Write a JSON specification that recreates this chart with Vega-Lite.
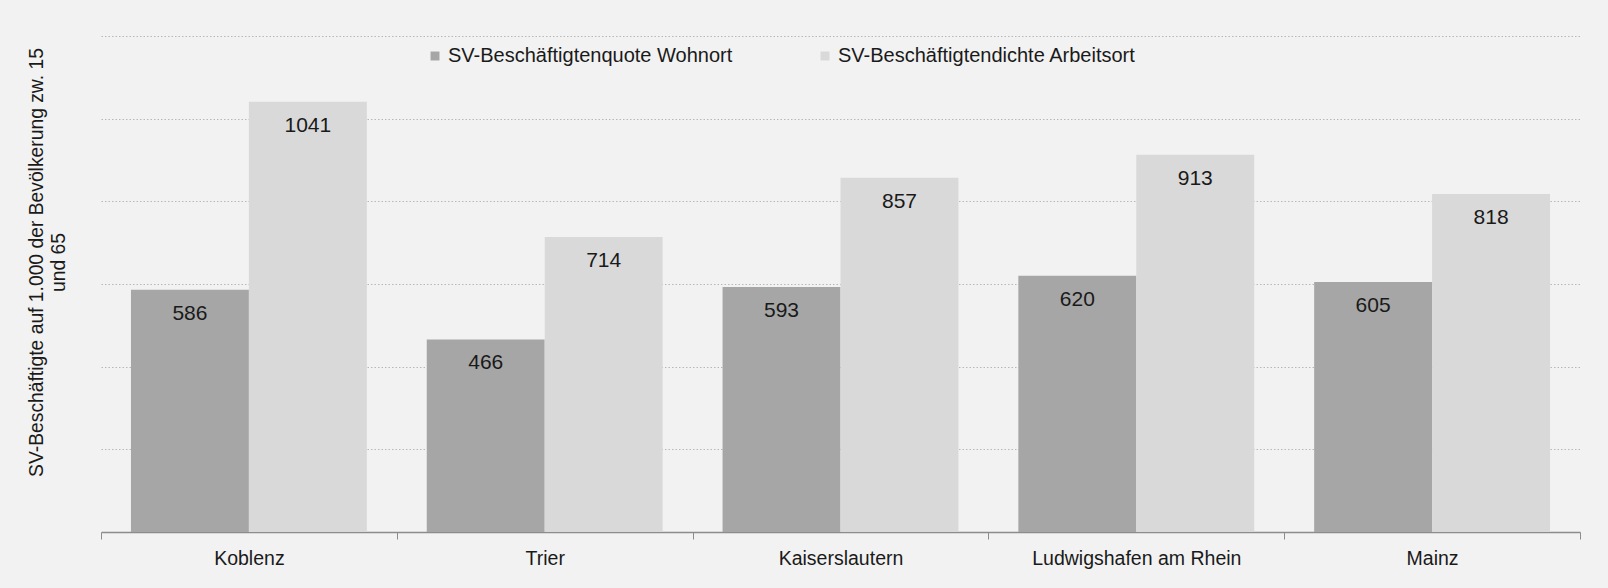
{
  "$schema": "https://vega.github.io/schema/vega-lite/v6.json",
  "width": 1479,
  "height": 496,
  "autosize": {"type": "none"},
  "padding": {"left": 101, "top": 36, "right": 28, "bottom": 56},
  "background": "#f2f2f2",
  "config": {
    "view": {"stroke": null},
    "font": "Liberation Sans",
    "axis": {"labelFont": "Liberation Sans", "titleFont": "Liberation Sans"}
  },
  "data": {
    "values": [
      {"ort": "Koblenz", "serie": "SV-Beschäftigtenquote Wohnort", "wert": 586},
      {"ort": "Koblenz", "serie": "SV-Beschäftigtendichte Arbeitsort", "wert": 1041},
      {"ort": "Trier", "serie": "SV-Beschäftigtenquote Wohnort", "wert": 466},
      {"ort": "Trier", "serie": "SV-Beschäftigtendichte Arbeitsort", "wert": 714},
      {"ort": "Kaiserslautern", "serie": "SV-Beschäftigtenquote Wohnort", "wert": 593},
      {"ort": "Kaiserslautern", "serie": "SV-Beschäftigtendichte Arbeitsort", "wert": 857},
      {"ort": "Ludwigshafen am Rhein", "serie": "SV-Beschäftigtenquote Wohnort", "wert": 620},
      {"ort": "Ludwigshafen am Rhein", "serie": "SV-Beschäftigtendichte Arbeitsort", "wert": 913},
      {"ort": "Mainz", "serie": "SV-Beschäftigtenquote Wohnort", "wert": 605},
      {"ort": "Mainz", "serie": "SV-Beschäftigtendichte Arbeitsort", "wert": 818}
    ]
  },
  "encoding": {
    "x": {
      "field": "ort",
      "type": "nominal",
      "sort": null,
      "scale": {"paddingInner": 0, "paddingOuter": 0},
      "axis": {
        "title": null,
        "labelAngle": 0,
        "labelFontSize": 19.5,
        "labelColor": "#1a1a1a",
        "labelPadding": 10,
        "labelLimit": 400,
        "tickBand": "extent",
        "tickSize": 7,
        "tickColor": "#8c8c8c",
        "domainColor": "#8c8c8c",
        "domainWidth": 1.5,
        "grid": false
      }
    },
    "xOffset": {
      "field": "serie",
      "type": "nominal",
      "sort": ["SV-Beschäftigtenquote Wohnort", "SV-Beschäftigtendichte Arbeitsort"],
      "scale": {"paddingInner": 0, "paddingOuter": 0.254}
    },
    "y": {
      "field": "wert",
      "type": "quantitative",
      "scale": {"domain": [0, 1200], "nice": false},
      "axis": {
        "values": [200, 400, 600, 800, 1000, 1200],
        "labels": false,
        "ticks": false,
        "domain": false,
        "grid": true,
        "gridColor": "#b8b8b8",
        "gridDash": [1.5, 2],
        "gridWidth": 1.2,
        "title": ["SV-Beschäftigte auf 1.000 der Bevölkerung zw. 15", "und 65"],
        "titleFontSize": 19.3,
        "titleLineHeight": 22,
        "titleFontWeight": "normal",
        "titleColor": "#1a1a1a",
        "titleAngle": -90,
        "titleAlign": "center",
        "titleBaseline": "middle",
        "titleX": -65,
        "titleY": 226
      }
    }
  },
  "layer": [
    {
      "mark": {"type": "bar"},
      "encoding": {
        "color": {
          "field": "serie",
          "type": "nominal",
          "sort": ["SV-Beschäftigtenquote Wohnort", "SV-Beschäftigtendichte Arbeitsort"],
          "scale": {"range": ["#a6a6a6", "#d9d9d9"]},
          "legend": {
            "title": null,
            "orient": "none",
            "direction": "horizontal",
            "legendX": 324,
            "legendY": 10,
            "padding": 0,
            "symbolType": "square",
            "symbolSize": 80,
            "symbolStrokeWidth": 0,
            "labelFont": "Liberation Sans",
            "labelFontSize": 20,
            "labelColor": "#1a1a1a",
            "labelOffset": 3,
            "columnPadding": 82,
            "labelLimit": 400
          }
        }
      }
    },
    {
      "mark": {"type": "text", "dy": 24, "baseline": "middle", "fontSize": 21, "color": "#1a1a1a"},
      "encoding": {"text": {"field": "wert", "type": "quantitative"}}
    }
  ]
}
